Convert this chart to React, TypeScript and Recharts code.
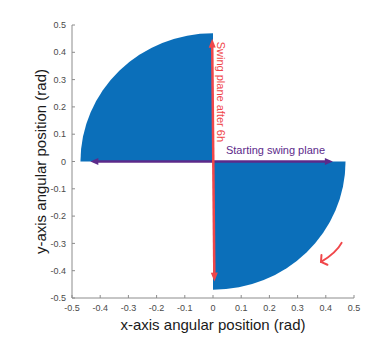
import {
  Label,
  ReferenceArea,
  ReferenceDot,
  ReferenceLine,
  Scatter,
  ScatterChart,
  XAxis,
  YAxis,
} from "recharts";

// axis ticks (rad)
const tickValues = [-0.5, -0.4, -0.3, -0.2, -0.1, 0, 0.1, 0.2, 0.3, 0.4, 0.5];

// the two filled quarter sectors, as their bounding corners in data units
const sectorNames = ["upper-left", "lower-right"];
const sectorX1 = [-0.47, 0];
const sectorX2 = [0, 0.47];
const sectorY1 = [0, -0.47];
const sectorY2 = [0.47, 0];

// arrows (start, end)
const swingAfterX = [-0.003, 0.005];
const swingAfterY = [0.45, -0.44];
const startingPlaneX = [-0.435, 0.425];
const startingPlaneY = [0, 0];
const turnArrowX = [0.456, 0.383];
const turnArrowY = [-0.298, -0.368];

// annotations
const annotationText = ["Swing plane after 6h", "Starting swing plane"];
const annotationX = [0.028, 0.046];
const annotationY = [0.255, 0.04];

const FONT = "'Liberation Sans', Arial, Helvetica, sans-serif";
const BLUE = "#0b6fba";
const RED = "#f0474a";
const PURPLE = "#5c2a8a";
const AXIS = "#8c8c8c";
const TICK_TEXT = "#4a4a4a";

// invisible points so every axis gets a data domain
const anchorPoints = sectorNames.flatMap((_, i) => [
  { x: sectorX1[i], y: sectorY1[i] },
  { x: sectorX2[i], y: sectorY2[i] },
]);

function sectorShape(upperLeft: boolean) {
  return (props: any) => {
    const { x, y, width: w, height: h } = props;
    const d = upperLeft
      ? `M ${x + w} ${y + h} L ${x} ${y + h} A ${w} ${h} 0 0 1 ${x + w} ${y} Z`
      : `M ${x} ${y} L ${x + w} ${y} A ${w} ${h} 0 0 1 ${x} ${y + h} Z`;
    return <path d={d} fill={BLUE} stroke="none" />;
  };
}

function head(tx: number, ty: number, dx: number, dy: number, len: number, half: number) {
  // dx,dy: unit vector pointing toward the tip
  const bx = tx - dx * len;
  const by = ty - dy * len;
  return `${tx},${ty} ${bx - dy * half},${by + dx * half} ${bx + dy * half},${by - dx * half}`;
}

function doubleArrow(color: string, sw: number, len: number, half: number) {
  return (props: any) => {
    const { x1, y1, x2, y2 } = props;
    const L = Math.hypot(x2 - x1, y2 - y1) || 1;
    const ux = (x2 - x1) / L;
    const uy = (y2 - y1) / L;
    return (
      <g>
        <line
          x1={x1 + ux * (len - 1)}
          y1={y1 + uy * (len - 1)}
          x2={x2 - ux * (len - 1)}
          y2={y2 - uy * (len - 1)}
          stroke={color}
          strokeWidth={sw}
        />
        <polygon points={head(x2, y2, ux, uy, len, half)} fill={color} />
        <polygon points={head(x1, y1, -ux, -uy, len, half)} fill={color} />
      </g>
    );
  };
}

function curvedArrow(props: any) {
  const { x1, y1, x2, y2 } = props;
  const L = Math.hypot(x2 - x1, y2 - y1) || 1;
  const ux = (x2 - x1) / L;
  const uy = (y2 - y1) / L;
  const cx = (x1 + x2) / 2 + uy * 0.13 * L - ux * 0.13 * L;
  const cy = (y1 + y2) / 2 - ux * 0.13 * L - uy * 0.13 * L;
  const tl = Math.hypot(x2 - cx, y2 - cy) || 1;
  const bx = (cx - x2) / tl;
  const by = (cy - y2) / tl;
  const a = (55 * Math.PI) / 180;
  const arm = 7;
  const r1x = bx * Math.cos(a) - by * Math.sin(a);
  const r1y = bx * Math.sin(a) + by * Math.cos(a);
  const r2x = bx * Math.cos(-a) - by * Math.sin(-a);
  const r2y = bx * Math.sin(-a) + by * Math.cos(-a);
  return (
    <g fill="none" stroke={RED} strokeWidth={2} strokeLinecap="round">
      <path d={`M ${x1} ${y1} Q ${cx} ${cy} ${x2} ${y2}`} />
      <path d={`M ${x2 + r1x * arm} ${y2 + r1y * arm} L ${x2} ${y2} L ${x2 + r2x * arm} ${y2 + r2y * arm}`} />
    </g>
  );
}

function BottomTick(props: any) {
  const { x, y, payload } = props;
  return (
    <g>
      <line x1={x} x2={x} y1={y - 10} y2={y - 13} stroke={AXIS} />
      <text x={x} y={y} dy="0.35em" textAnchor="middle" fill={TICK_TEXT} fontSize={9} fontFamily={FONT}>
        {payload.value}
      </text>
    </g>
  );
}

function LeftTick(props: any) {
  const { x, y, payload } = props;
  return (
    <g>
      <line x1={x + 6} x2={x + 9} y1={y} y2={y} stroke={AXIS} />
      <text x={x} y={y} dy="0.35em" textAnchor="end" fill={TICK_TEXT} fontSize={9} fontFamily={FONT}>
        {payload.value}
      </text>
    </g>
  );
}

function TopTick(props: any) {
  const { x, y } = props;
  return <line x1={x} x2={x} y1={y} y2={y + 3} stroke={AXIS} />;
}

function RightTick(props: any) {
  const { x, y } = props;
  return <line x1={x} x2={x - 3} y1={y} y2={y} stroke={AXIS} />;
}

function textShape(i: number, color: string, vertical: boolean) {
  return (props: any) => {
    const { cx, cy } = props;
    return (
      <text
        x={cx}
        y={cy}
        dy="0.35em"
        textAnchor={vertical ? "middle" : "start"}
        transform={vertical ? `rotate(90, ${cx}, ${cy})` : undefined}
        fill={color}
        fontSize={11}
        fontFamily={FONT}
      >
        {annotationText[i]}
      </text>
    );
  };
}

const noMark = () => <g />;

export default function App() {
  return (
    <div style={{ position: "absolute", left: 0, top: 0, width: 389, height: 362, background: "#fff" }}>
      <ScatterChart width={389} height={362} margin={{ top: 25, right: 35, bottom: 24, left: 0 }}>
        <XAxis
          xAxisId="bottom"
          type="number"
          dataKey="x"
          domain={[-0.5, 0.5]}
          allowDataOverflow
          ticks={tickValues}
          interval={0}
          height={40}
          tickSize={0}
          tickMargin={10}
          tickLine={false}
          axisLine={{ stroke: AXIS }}
          tick={<BottomTick />}
        >
          <Label
            content={(p: any) => {
              const vb = p.viewBox;
              return (
                <text
                  x={vb.x + vb.width / 2}
                  y={vb.y + 27}
                  dy="0.35em"
                  textAnchor="middle"
                  fill="#1a1a1a"
                  fontSize={15}
                  fontFamily={FONT}
                >
                  x-axis angular position (rad)
                </text>
              );
            }}
          />
        </XAxis>
        <XAxis
          xAxisId="top"
          orientation="top"
          type="number"
          dataKey="x"
          domain={[-0.5, 0.5]}
          allowDataOverflow
          ticks={tickValues}
          interval={0}
          height={0}
          tickSize={0}
          tickMargin={0}
          tickLine={false}
          axisLine={{ stroke: AXIS }}
          tick={<TopTick />}
        />
        <YAxis
          yAxisId="left"
          type="number"
          dataKey="y"
          domain={[-0.5, 0.5]}
          allowDataOverflow
          ticks={tickValues}
          interval={0}
          width={72}
          tickSize={0}
          tickMargin={6}
          tickLine={false}
          axisLine={{ stroke: AXIS }}
          tick={<LeftTick />}
        >
          <Label
            content={(p: any) => {
              const vb = p.viewBox;
              const cx = vb.x + 41;
              const cy = vb.y + vb.height / 2;
              return (
                <text
                  x={cx}
                  y={cy}
                  dy="0.35em"
                  textAnchor="middle"
                  transform={`rotate(-90, ${cx}, ${cy})`}
                  fill="#1a1a1a"
                  fontSize={15}
                  fontFamily={FONT}
                >
                  y-axis angular position (rad)
                </text>
              );
            }}
          />
        </YAxis>
        <YAxis
          yAxisId="right"
          orientation="right"
          type="number"
          dataKey="y"
          domain={[-0.5, 0.5]}
          allowDataOverflow
          ticks={tickValues}
          interval={0}
          width={0}
          tickSize={0}
          tickMargin={0}
          tickLine={false}
          axisLine={{ stroke: AXIS }}
          tick={<RightTick />}
        />

        <Scatter
          xAxisId="bottom"
          yAxisId="left"
          data={anchorPoints}
          shape={noMark}
          legendType="none"
          isAnimationActive={false}
        />
        <Scatter
          xAxisId="top"
          yAxisId="right"
          data={anchorPoints}
          shape={noMark}
          legendType="none"
          isAnimationActive={false}
        />

        {sectorNames.map((name, i) => (
          <ReferenceArea
            key={name}
            xAxisId="bottom"
            yAxisId="left"
            x1={sectorX1[i]}
            x2={sectorX2[i]}
            y1={sectorY1[i]}
            y2={sectorY2[i]}
            ifOverflow="visible"
            shape={sectorShape(sectorX1[i] < 0)}
          />
        ))}

        <ReferenceLine
          xAxisId="bottom"
          yAxisId="left"
          segment={[
            { x: startingPlaneX[0], y: startingPlaneY[0] },
            { x: startingPlaneX[1], y: startingPlaneY[1] },
          ]}
          ifOverflow="visible"
          shape={doubleArrow(PURPLE, 2.5, 8, 3.5)}
        />
        <ReferenceLine
          xAxisId="bottom"
          yAxisId="left"
          segment={[
            { x: swingAfterX[0], y: swingAfterY[0] },
            { x: swingAfterX[1], y: swingAfterY[1] },
          ]}
          ifOverflow="visible"
          shape={doubleArrow(RED, 2.5, 9, 3.5)}
        />
        <ReferenceLine
          xAxisId="bottom"
          yAxisId="left"
          segment={[
            { x: turnArrowX[0], y: turnArrowY[0] },
            { x: turnArrowX[1], y: turnArrowY[1] },
          ]}
          ifOverflow="visible"
          shape={curvedArrow}
        />

        <ReferenceDot
          xAxisId="bottom"
          yAxisId="left"
          x={annotationX[0]}
          y={annotationY[0]}
          r={0}
          ifOverflow="visible"
          shape={textShape(0, RED, true)}
        />
        <ReferenceDot
          xAxisId="bottom"
          yAxisId="left"
          x={annotationX[1]}
          y={annotationY[1]}
          r={0}
          ifOverflow="visible"
          shape={textShape(1, PURPLE, false)}
        />
      </ScatterChart>
    </div>
  );
}
